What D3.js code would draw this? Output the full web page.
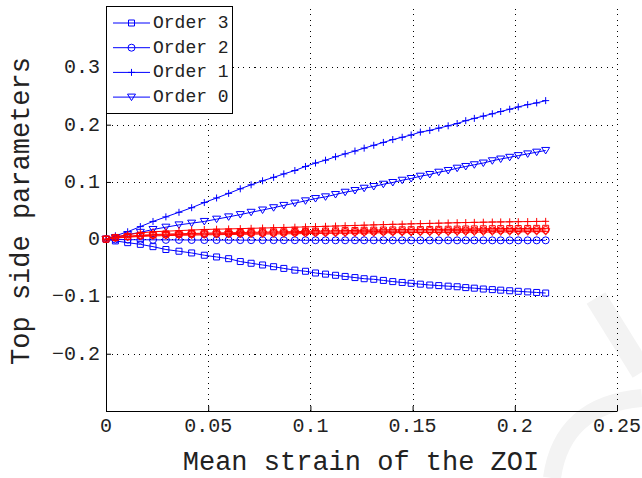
<!DOCTYPE html>
<html><head><meta charset="utf-8">
<script src="https://cdn.jsdelivr.net/npm/d3@7"></script>
<style>body{margin:0;background:#fff} svg{display:block}</style>
</head><body><svg id="c" width="642" height="478"></svg>
<script>
// Mean strain of the ZOI at each recorded step
const strain = [0, 0.0046, 0.0106, 0.0168, 0.0230, 0.0293, 0.0357, 0.0419, 0.0481, 0.0541,
  0.0600, 0.0657, 0.0710, 0.0766, 0.0820, 0.0870, 0.0924, 0.0976, 0.1025, 0.1074,
  0.1123, 0.1170, 0.1218, 0.1263, 0.1310, 0.1357, 0.1403, 0.1449, 0.1493, 0.1538,
  0.1584, 0.1628, 0.1674, 0.1718, 0.1760, 0.1802, 0.1846, 0.1890, 0.1931, 0.1975,
  0.2017, 0.2063, 0.2107, 0.2151];

// Blue series (legend entries)
const order3 = [0, -0.003, -0.006, -0.009, -0.013, -0.018, -0.021, -0.024, -0.028, -0.031,
  -0.034, -0.039, -0.042, -0.045, -0.048, -0.051, -0.054, -0.056, -0.059, -0.061,
  -0.063, -0.065, -0.067, -0.069, -0.070, -0.072, -0.074, -0.0755, -0.077, -0.0785,
  -0.080, -0.081, -0.082, -0.083, -0.0845, -0.0855, -0.087, -0.088, -0.089, -0.090,
  -0.091, -0.092, -0.093, -0.094];
const order2 = [0, -0.0005, -0.0008, -0.001, -0.0011, -0.0012, -0.0013, -0.0014, -0.0015, -0.0015,
  -0.0016, -0.0016, -0.0017, -0.0017, -0.0017, -0.0018, -0.0018, -0.0018, -0.0018, -0.0019,
  -0.0019, -0.0019, -0.0019, -0.0019, -0.0019, -0.0019, -0.002, -0.002, -0.002, -0.002,
  -0.002, -0.002, -0.002, -0.002, -0.002, -0.002, -0.002, -0.002, -0.002, -0.002,
  -0.002, -0.002, -0.002, -0.002];
const order1 = [0, 0.006, 0.013, 0.022, 0.031, 0.039, 0.047, 0.055, 0.064, 0.072,
  0.080, 0.088, 0.095, 0.102, 0.108, 0.114, 0.120, 0.127, 0.133, 0.138,
  0.144, 0.149, 0.154, 0.159, 0.164, 0.169, 0.174, 0.178, 0.182, 0.187,
  0.190, 0.194, 0.198, 0.202, 0.207, 0.211, 0.215, 0.219, 0.223, 0.227,
  0.231, 0.235, 0.238, 0.242];
const order0 = [0, 0.003, 0.008, 0.012, 0.017, 0.021, 0.025, 0.028, 0.031, 0.035,
  0.039, 0.043, 0.047, 0.051, 0.055, 0.059, 0.063, 0.067, 0.071, 0.074,
  0.078, 0.082, 0.085, 0.089, 0.092, 0.096, 0.099, 0.103, 0.106, 0.110,
  0.113, 0.117, 0.120, 0.124, 0.127, 0.130, 0.133, 0.137, 0.140, 0.143,
  0.146, 0.149, 0.152, 0.155];

// Red series
const redOrder3 = [0, 0.003, 0.005, 0.007, 0.008, 0.009, 0.0095, 0.010, 0.0105, 0.011,
  0.0113, 0.0116, 0.012, 0.0123, 0.0126, 0.013, 0.0133, 0.0136, 0.014, 0.0143,
  0.0146, 0.015, 0.0153, 0.0156, 0.0158, 0.016, 0.0162, 0.0164, 0.0166, 0.0168,
  0.017, 0.0172, 0.0174, 0.0176, 0.0178, 0.018, 0.0182, 0.0184, 0.0185, 0.0186,
  0.0187, 0.0188, 0.0189, 0.019];
const redOrder2 = [0, 0.0025, 0.0045, 0.006, 0.007, 0.0077, 0.0082, 0.0087, 0.0091, 0.0095,
  0.0098, 0.0101, 0.0104, 0.0107, 0.011, 0.0113, 0.0116, 0.0119, 0.0122, 0.0124,
  0.0126, 0.0128, 0.013, 0.0132, 0.0134, 0.0136, 0.0138, 0.014, 0.0142, 0.0144,
  0.0146, 0.0147, 0.0148, 0.015, 0.0151, 0.0152, 0.0154, 0.0155, 0.0156, 0.0157,
  0.0158, 0.0159, 0.016, 0.0161];
const redOrder1 = [0, 0.004, 0.008, 0.011, 0.013, 0.014, 0.015, 0.016, 0.017, 0.0175,
  0.018, 0.0185, 0.019, 0.0195, 0.020, 0.0205, 0.021, 0.0215, 0.022, 0.0225,
  0.023, 0.0235, 0.024, 0.0245, 0.025, 0.0255, 0.026, 0.0263, 0.0268, 0.0272,
  0.0276, 0.028, 0.0284, 0.0288, 0.0291, 0.0294, 0.0297, 0.030, 0.0302, 0.0304,
  0.0306, 0.0308, 0.031, 0.0312];
const redOrder0 = [0, 0.002, 0.0035, 0.0048, 0.0057, 0.0063, 0.0068, 0.0072, 0.0076, 0.0079,
  0.0082, 0.0085, 0.0088, 0.009, 0.0092, 0.0094, 0.0096, 0.0098, 0.010, 0.0102,
  0.0104, 0.0106, 0.0108, 0.011, 0.0111, 0.0112, 0.0114, 0.0115, 0.0116, 0.0118,
  0.0119, 0.012, 0.0121, 0.0122, 0.0123, 0.0124, 0.0125, 0.0126, 0.0127, 0.0128,
  0.0129, 0.013, 0.0131, 0.0132];

const xTicks = [0, 0.05, 0.1, 0.15, 0.2, 0.25];
const yTicks = [-0.2, -0.1, 0, 0.1, 0.2, 0.3];
const legendLabels = ["Order 3", "Order 2", "Order 1", "Order 0"];

const BLUE = "#0000ff", RED = "#ff0000";
const blueSeries = [
  {name: legendLabels[0], y: order3, marker: "square"},
  {name: legendLabels[1], y: order2, marker: "circle"},
  {name: legendLabels[2], y: order1, marker: "plus"},
  {name: legendLabels[3], y: order0, marker: "triangle"}
];
const redSeries = [
  {y: redOrder3, marker: "square"},
  {y: redOrder2, marker: "circle"},
  {y: redOrder1, marker: "plus"},
  {y: redOrder0, marker: "triangle"}
];

const L = 106, R = 617, T = 9, B = 411;
const FONT = "'Courier New', 'Liberation Mono', monospace";
const x = d3.scaleLinear().domain([0, 0.25]).range([L, R]);
const y = d3.scaleLinear().domain([-0.3, 0.402]).range([B, T]);

const svg = d3.select("#c");
svg.append("rect").attr("width", 642).attr("height", 478).attr("fill", "#fff");

// faint background mark in the lower-right corner
const wm = svg.append("g").attr("fill", "none").attr("stroke", "#f3f3f3").attr("stroke-linecap", "butt");
wm.append("path").attr("d", "M552,478 Q562,405 642,398").attr("stroke-width", 18);
wm.append("path").attr("d", "M596,298 L642,372").attr("stroke-width", 22);

// dotted grid
const grid = svg.append("g").attr("stroke", "#000").attr("stroke-width", 1)
  .attr("stroke-dasharray", "1,4.5").attr("shape-rendering", "crispEdges");
xTicks.filter(v => v > 0).forEach(v => {
  grid.append("line").attr("x1", Math.round(x(v)) + 0.5).attr("x2", Math.round(x(v)) + 0.5)
    .attr("y1", B).attr("y2", T);
});
yTicks.forEach(v => {
  grid.append("line").attr("y1", Math.round(y(v)) + 0.5).attr("y2", Math.round(y(v)) + 0.5)
    .attr("x1", L).attr("x2", R);
});

// axes (ticks pointing inward)
const xAxis = d3.axisTop(x).tickValues(xTicks).tickSize(5).tickFormat(d3.format("~g"));
const gx = svg.append("g").attr("transform", `translate(0,${B})`).call(xAxis);
gx.select(".domain").remove();
gx.selectAll("text").remove();
const yAxis = d3.axisRight(y).tickValues(yTicks).tickSize(5);
const gy = svg.append("g").attr("transform", `translate(${L},0)`).call(yAxis);
gy.select(".domain").remove();
gy.selectAll("text").remove();
svg.selectAll(".tick line").attr("stroke", "#000");

svg.append("line").attr("x1", L).attr("x2", R + 0.5).attr("y1", B + 0.5).attr("y2", B + 0.5)
  .attr("stroke", "#000");
svg.append("line").attr("x1", L + 0.5).attr("x2", L + 0.5).attr("y1", T).attr("y2", B + 1)
  .attr("stroke", "#000");

// tick labels
const fmt = v => (v < 0 ? "\u2212" : "") + d3.format("~g")(Math.abs(v));
svg.append("g").selectAll("text").data(xTicks).join("text")
  .attr("x", d => x(d)).attr("y", 432).attr("text-anchor", "middle")
  .attr("font-family", FONT).attr("font-size", 20).attr("fill", "#222")
  .text(fmt);
svg.append("g").selectAll("text").data(yTicks).join("text")
  .attr("x", 100).attr("y", d => y(d) + 6).attr("text-anchor", "end")
  .attr("font-family", FONT).attr("font-size", 20).attr("fill", "#222")
  .text(fmt);

// axis titles
svg.append("text").attr("x", 361).attr("y", 470).attr("text-anchor", "middle")
  .attr("font-family", FONT).attr("font-size", 27).attr("fill", "#222")
  .text("Mean strain of the ZOI");
svg.append("text").attr("transform", "translate(29,211) rotate(-90)").attr("text-anchor", "middle")
  .attr("font-family", FONT).attr("font-size", 27).attr("fill", "#222")
  .text("Top side parameters");

// marker shapes
function markerPath(type) {
  switch (type) {
    case "square": return "M-3,-3H3V3H-3Z";
    case "circle": return "M3.5,0A3.5,3.5 0 1 1 -3.5,0A3.5,3.5 0 1 1 3.5,0Z";
    case "plus": return "M-3.5,0H3.5M0,-3.5V3.5";
    case "triangle": return "M-4,-3H4L0,3.5Z";
  }
}

const line = d3.line().x((d, i) => x(strain[i])).y(d => y(d));
function drawSeries(s, color) {
  const g = svg.append("g");
  g.append("path").datum(s.y).attr("d", line).attr("fill", "none")
    .attr("stroke", color).attr("stroke-width", 1);
  g.selectAll("path.m").data(s.y).join("path").attr("class", "m")
    .attr("transform", (d, i) => `translate(${x(strain[i])},${y(d)})`)
    .attr("d", markerPath(s.marker)).attr("fill", "none")
    .attr("stroke", color).attr("stroke-width", 1);
}
blueSeries.forEach(s => drawSeries(s, BLUE));
redSeries.forEach(s => drawSeries(s, RED));

// legend
const lg = svg.append("g");
lg.append("rect").attr("x", 106.5).attr("y", 6.5).attr("width", 126).attr("height", 107)
  .attr("fill", "#fff").attr("stroke", "#000").attr("stroke-width", 1);
blueSeries.forEach((s, i) => {
  const ry = 23 + i * 24.7;
  lg.append("line").attr("x1", 113).attr("x2", 150).attr("y1", ry).attr("y2", ry)
    .attr("stroke", BLUE);
  lg.append("path").attr("transform", `translate(131.5,${ry})`).attr("d", markerPath(s.marker))
    .attr("fill", "none").attr("stroke", BLUE);
  lg.append("text").attr("x", 153).attr("y", ry + 5).attr("font-family", FONT)
    .attr("font-size", 18).attr("fill", "#222").text(s.name);
});
</script>
</body></html>
